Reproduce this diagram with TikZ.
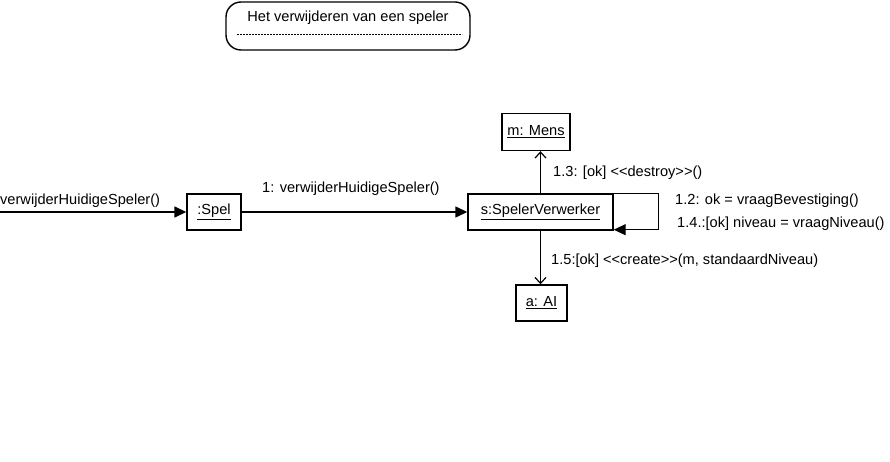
\documentclass[tikz,border=0pt]{standalone}
\usepackage{fontspec}
\setmainfont{Liberation Sans}
\usetikzlibrary{arrows.meta}

\begin{document}
\begin{tikzpicture}[x=1pt,y=-1pt,font=\fontsize{14.6}{17}\selectfont,
	object/.style={draw,line width=1.4pt,minimum height=36pt,inner sep=0pt},
	message/.style={line width=1.4pt,-{Triangle[length=12pt,width=11pt]}},
	creation/.style={line width=1.4pt,-{Straight Barb[length=6pt,width=11pt,line width=1.2pt]}},
	label/.style={anchor=west,inner sep=0pt}]

\useasboundingbox[fill=white] (0,0) rectangle (890,462);

% titel
\node[draw,line width=1.4pt,rounded corners=15pt,minimum width=244pt,minimum height=48pt] (titel) at (348,26) {};
\node[inner sep=0pt] (titeltekst) at (348,18) {Het verwijderen van een speler};
\draw[dash pattern=on 2pt off 1pt,line width=0.7pt] (237,34) -- (462,34);

% objecten
\node[object,minimum width=54pt] (spel) at (214,212) {\underline{:Spel}};
\node[object,minimum width=145pt] (verwerker) at (540.5,212) {\underline{s:SpelerVerwerker}};
\node[object,minimum width=68pt,minimum height=37pt] (mens) at (536,132) {\underline{m: Mens}};
\node[object,minimum width=51pt] (ai) at (541.5,303) {\underline{a: AI}};
\coordinate (start) at (0,212);

% berichten
\draw[message] (start) -- (spel.west);
\draw[message] (spel.east) -- (verwerker.west);
\draw[creation] (verwerker.north) -- (verwerker.north |- mens.south);
\draw[creation] (verwerker.south) -- (verwerker.south |- ai.north);
\draw[message] (verwerker.north east) -- ++(45,0) |- ([yshift=1pt]verwerker.south east);

% labels
\node[label] (lbl0) at (0,201) {verwijderHuidigeSpeler()};
\node[label] (lbl1) at (262,189) {1: verwijderHuidigeSpeler()};
\node[label] (lbl13) at (553,173) {1.3: [ok] <\kern0pt<destroy>\kern0pt>()};
\node[label] (lbl12) at (675,201) {1.2: ok = vraagBevestiging()};
\node[label] (lbl14) at (677,224) {1.4.:[ok] niveau = vraagNiveau()};
\node[label] (lbl15) at (551,261) {1.5:[ok] <\kern0pt<create>\kern0pt>(m, standaardNiveau)};

\end{tikzpicture}
\end{document}
